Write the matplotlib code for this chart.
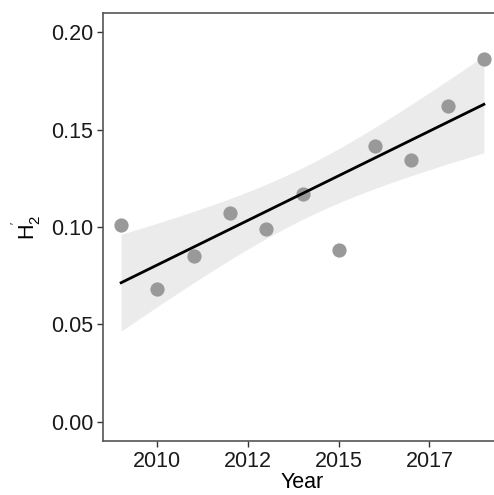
import matplotlib
matplotlib.use("Agg")
import matplotlib.pyplot as plt
import numpy as np

# data
years = np.arange(2009, 2020)
h2 = [0.101, 0.068, 0.085, 0.107, 0.099, 0.117, 0.088, 0.1415, 0.1345, 0.162, 0.1862]
x_ticks = [2010, 2012.5, 2015, 2017.5]
x_tick_labels = ["2010", "2012", "2015", "2017"]
y_ticks = [0.0, 0.05, 0.10, 0.15, 0.20]
y_tick_labels = ["0.00", "0.05", "0.10", "0.15", "0.20"]
T_975_DF9 = 2.262  # t quantile for 95% band, n - 2 = 9

plt.rcParams["font.family"] = ["Liberation Sans", "DejaVu Sans"]
plt.rcParams["mathtext.fontset"] = "custom"
plt.rcParams["mathtext.rm"] = "Liberation Sans"
plt.rcParams["mathtext.it"] = "Liberation Sans"

x = np.asarray(years, dtype=float)
y = np.asarray(h2)
n = len(x)
slope, intercept = np.polyfit(x, y, 1)
resid = y - (slope * x + intercept)
s = np.sqrt(np.sum(resid ** 2) / (n - 2))
sxx = np.sum((x - x.mean()) ** 2)
grid = np.linspace(x.min(), x.max(), 80)
fit = slope * grid + intercept
se = s * np.sqrt(1 / n + (grid - x.mean()) ** 2 / sxx)

fig = plt.figure(figsize=(4.94, 4.95), dpi=100)
# panel runs past the right edge of the image, as in the reference
ax = fig.add_axes([103 / 494, 54 / 495, 399 / 494, 428 / 495])

ax.fill_between(grid, fit - T_975_DF9 * se, fit + T_975_DF9 * se,
                color="#ebebeb", lw=0, zorder=1)
ax.scatter(x, y, s=105, color="#999999", lw=0, zorder=2)
ax.plot(grid, fit, color="black", lw=2.0, zorder=3)

ax.set_xlim(2008.5, 2019.5)
ax.set_ylim(-0.01, 0.21)
ax.set_xticks(x_ticks)
ax.set_xticklabels(x_tick_labels)
ax.set_yticks(y_ticks)
ax.set_yticklabels(y_tick_labels)

for sp in ax.spines.values():
    sp.set_color("#555555")
    sp.set_linewidth(1.2)
ax.spines["right"].set_visible(False)
ax.tick_params(direction="out", length=4, width=1, color="#333333",
               labelsize=15.5, labelcolor="#1a1a1a", pad=3)

ax.set_xlabel("Year", fontsize=15.5, labelpad=0)
ax.set_ylabel(r"$\mathregular{H_2^{'}}$", fontsize=15.5, labelpad=6)

fig.savefig("out.png", dpi=100)
